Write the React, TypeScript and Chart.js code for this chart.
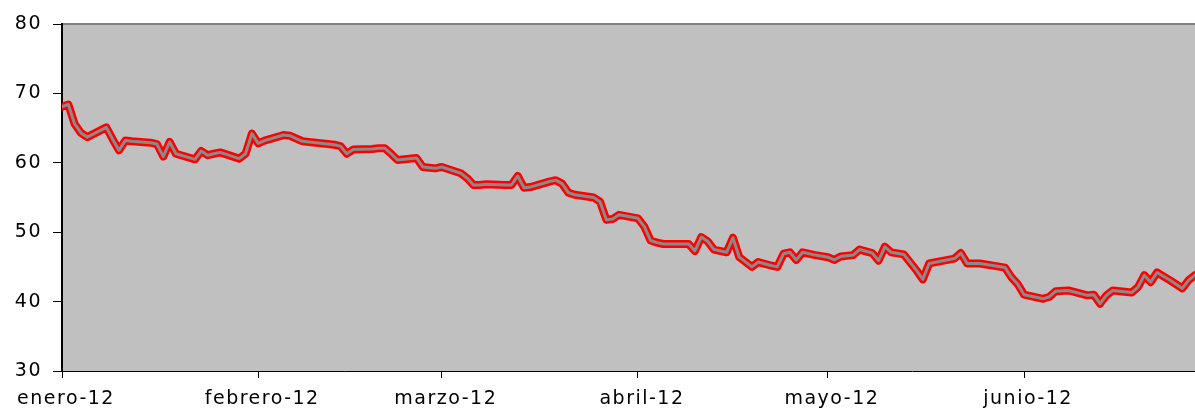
import React, { useEffect, useRef } from "react";
import { Chart, registerables } from "chart.js";

Chart.register(...registerables);

// Daily readings (2012)
const dates: string[] = [
  "2012-01-02", "2012-01-03", "2012-01-04", "2012-01-05", "2012-01-06",
  "2012-01-09", "2012-01-10", "2012-01-11", "2012-01-12", "2012-01-13",
  "2012-01-16", "2012-01-17", "2012-01-18", "2012-01-19", "2012-01-20",
  "2012-01-23", "2012-01-24", "2012-01-25", "2012-01-26", "2012-01-27",
  "2012-01-30", "2012-01-31", "2012-02-01", "2012-02-02", "2012-02-03",
  "2012-02-06", "2012-02-07", "2012-02-08", "2012-02-09", "2012-02-10",
  "2012-02-13", "2012-02-14", "2012-02-15", "2012-02-16", "2012-02-17",
  "2012-02-20", "2012-02-21", "2012-02-22", "2012-02-23", "2012-02-24",
  "2012-02-27", "2012-02-28", "2012-02-29", "2012-03-01", "2012-03-02",
  "2012-03-05", "2012-03-06", "2012-03-07", "2012-03-08", "2012-03-09",
  "2012-03-12", "2012-03-13", "2012-03-14", "2012-03-15", "2012-03-16",
  "2012-03-19", "2012-03-20", "2012-03-21", "2012-03-22", "2012-03-23",
  "2012-03-26", "2012-03-27", "2012-03-28", "2012-03-29", "2012-03-30",
  "2012-04-02", "2012-04-03", "2012-04-04", "2012-04-05", "2012-04-06",
  "2012-04-09", "2012-04-10", "2012-04-11", "2012-04-12", "2012-04-13",
  "2012-04-14", "2012-04-16", "2012-04-17", "2012-04-18", "2012-04-20",
  "2012-04-21", "2012-04-23", "2012-04-24", "2012-04-25", "2012-04-26",
  "2012-04-27", "2012-04-28", "2012-04-30", "2012-05-02", "2012-05-03",
  "2012-05-04", "2012-05-06", "2012-05-07", "2012-05-09", "2012-05-10",
  "2012-05-11", "2012-05-12", "2012-05-14", "2012-05-16", "2012-05-17",
  "2012-05-18", "2012-05-22", "2012-05-23", "2012-05-24", "2012-05-26",
  "2012-05-30", "2012-05-31", "2012-06-01", "2012-06-02", "2012-06-05",
  "2012-06-06", "2012-06-07", "2012-06-09", "2012-06-12", "2012-06-13",
  "2012-06-14", "2012-06-15", "2012-06-16", "2012-06-19", "2012-06-20",
  "2012-06-21", "2012-06-22", "2012-06-23", "2012-06-25", "2012-06-27",
  "2012-06-28", "2012-06-29",
];

const values: number[] = [
  68.1, 68.4, 65.6, 64.3, 63.7,
  65.1, 63.4, 61.8, 63.2, 63.1,
  62.9, 62.7, 60.9, 63.0, 61.3,
  60.5, 61.7, 61.1, 61.3, 61.5,
  60.6, 61.3, 64.2, 62.8, 63.2,
  64.0, 63.9, 63.5, 63.1, 63.0,
  62.7, 62.6, 62.4, 61.3, 61.9,
  62.0, 62.1, 62.1, 61.3, 60.4,
  60.7, 59.4, 59.3, 59.2, 59.4,
  58.5, 57.8, 56.8, 56.8, 56.9,
  56.8, 56.8, 58.1, 56.4, 56.5,
  57.3, 57.5, 57.0, 55.7, 55.4,
  55.0, 54.4, 51.8, 51.9, 52.5,
  52.0, 50.8, 48.8, 48.5, 48.3,
  48.3, 48.3, 47.3, 49.3, 48.7,
  47.5, 47.1, 49.2, 46.4, 45.0,
  45.7, 45.2, 45.0, 46.9, 47.1,
  46.0, 47.1, 46.7, 46.4, 46.0,
  46.5, 46.7, 47.5, 47.0, 45.9,
  47.9, 47.1, 46.8, 44.5, 43.2,
  45.5, 46.2, 47.0, 45.5, 45.5,
  44.9, 43.5, 42.5, 41.0, 40.4,
  40.7, 41.5, 41.6, 40.9, 41.0,
  39.7, 40.9, 41.6, 41.3, 42.1,
  43.8, 42.8, 44.2, 43.1, 41.9,
  43.1, 43.8,
];

const tickDates: string[] = [
  "2012-01-02", "2012-02-02", "2012-03-02", "2012-04-02", "2012-05-02", "2012-06-02",
];
const tickLabels: string[] = [
  "enero-12", "febrero-12", "marzo-12", "abril-12", "mayo-12", "junio-12",
];
const axisStart = "2012-01-02";
const axisEnd = "2012-06-29";

const yMin = 30;
const yMax = 80;
const yStep = 10;

function dayIndex(s: string): number {
  const [y, m, d] = s.split("-").map(Number);
  return Math.round((Date.UTC(y, m - 1, d) - Date.UTC(2012, 0, 1)) / 86400000);
}

const FONT = "'DejaVu Sans', Verdana, sans-serif";
const SPACING = "1.5px";

const plotPlugin = {
  id: "plotBg",
  beforeLayout(chart: any) {
    chart.ctx.letterSpacing = SPACING;
  },
  beforeDraw(chart: any) {
    const ctx = chart.ctx;
    ctx.letterSpacing = SPACING;
    const { left, top, right, bottom } = chart.chartArea;
    ctx.save();
    ctx.fillStyle = "#c0c0c0";
    ctx.fillRect(left, top, right - left, bottom - top);
    ctx.strokeStyle = "#808080";
    ctx.lineWidth = 2;
    ctx.beginPath();
    ctx.moveTo(left, top);
    ctx.lineTo(right, top);
    ctx.stroke();
    ctx.restore();
  },
};

export default function App() {
  const ref = useRef<HTMLCanvasElement | null>(null);

  useEffect(() => {
    if (!ref.current) return;
    const pts = dates.map((d, i) => ({ x: dayIndex(d), y: values[i] }));
    const tickVals = tickDates.map(dayIndex);
    const chart = new Chart(ref.current, {
      type: "line",
      data: {
        datasets: [
          {
            data: pts,
            borderColor: "#8a8a8a",
            borderWidth: 3,
            pointRadius: 0,
            tension: 0,
            borderJoinStyle: "round",
            borderCapStyle: "round",
            order: 0,
          },
          {
            data: pts,
            borderColor: "#ff0000",
            borderWidth: 8,
            pointRadius: 0,
            tension: 0,
            borderJoinStyle: "round",
            borderCapStyle: "round",
            order: 1,
          },
        ],
      },
      options: {
        animation: false,
        responsive: false,
        maintainAspectRatio: false,
        layout: { padding: { top: 24, right: 0, bottom: 0, left: 0 } },
        plugins: { legend: { display: false }, tooltip: { enabled: false } },
        scales: {
          x: {
            type: "linear",
            min: dayIndex(axisStart),
            max: dayIndex(axisEnd),
            afterBuildTicks: (s: any) => {
              s.ticks = tickVals.map((v) => ({ value: v }));
            },
            afterFit: (s: any) => {
              s.height = 41;
            },
            ticks: {
              autoSkip: false,
              maxRotation: 0,
              callback: (_v: any, i: number) => tickLabels[i] ?? "",
              font: { family: FONT, size: 19 },
              color: "#000",
              padding: 10,
              labelOffset: 4,
            },
            grid: { drawOnChartArea: false, color: "#000", tickLength: 7 },
            border: { color: "#000", width: 1 },
          },
          y: {
            min: yMin,
            max: yMax,
            afterFit: (s: any) => {
              s.width = 62;
            },
            ticks: {
              stepSize: yStep,
              font: { family: FONT, size: 19 },
              color: "#000",
              padding: 11,
            },
            grid: { drawOnChartArea: false, color: "#000", tickLength: 9 },
            border: { color: "#000", width: 2 },
          },
        },
      },
      plugins: [plotPlugin],
    } as any);
    return () => chart.destroy();
  }, []);

  return (
    <div style={{ position: "absolute", left: 0, top: 0, width: 1195, height: 412 }}>
      <canvas ref={ref} width={1195} height={412} />
    </div>
  );
}
